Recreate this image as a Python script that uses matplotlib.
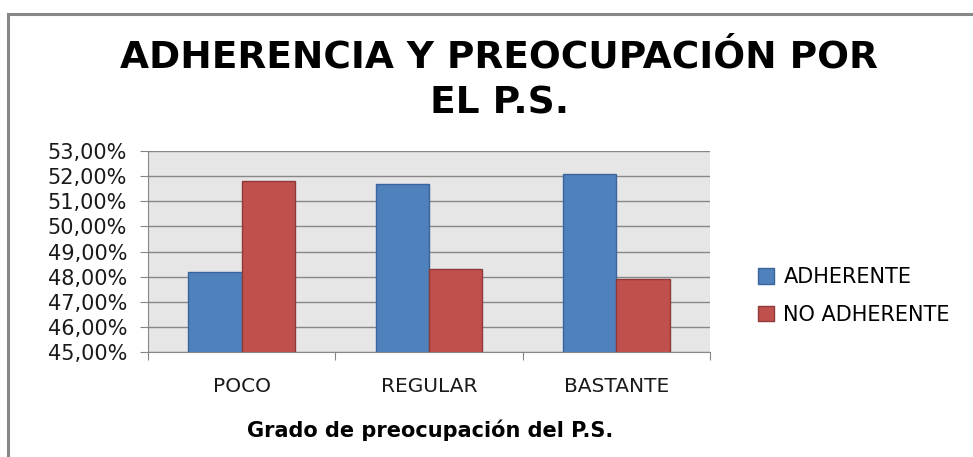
import matplotlib
matplotlib.use('Agg')
import matplotlib.pyplot as plt
import numpy as np
from matplotlib.ticker import FuncFormatter

categorias = ['POCO', 'REGULAR', 'BASTANTE']
adherente = [48.2, 51.7, 52.1]
no_adherente = [51.8, 48.3, 47.9]
series = ['ADHERENTE', 'NO ADHERENTE']

fig = plt.figure(figsize=(9.73, 4.57), dpi=100)

# marco exterior (solo arriba e izquierda visibles)
fig.add_artist(plt.Line2D([8/973, 1], [1-14/457, 1-14/457], color='#878787', lw=2.2))
fig.add_artist(plt.Line2D([8/973, 8/973], [0, 1-14/457], color='#878787', lw=2.2))

ax = fig.add_axes([148/973, 1-352/457, 562/973, 201/457])
ax.set_facecolor('#e6e6e6')

x = np.arange(len(categorias))
w = 0.285
ax.bar(x - w/2, adherente, w, color='#4f81bd', edgecolor='#3b659a', lw=1, label=series[0], zorder=3)
ax.bar(x + w/2, no_adherente, w, color='#c0504d', edgecolor='#8f3a38', lw=1, label=series[1], zorder=3)

ax.set_ylim(45, 53)
ax.set_xlim(-0.5, 2.5)
ax.set_yticks(np.arange(45, 54, 1))
ax.yaxis.set_major_formatter(FuncFormatter(lambda v, p: f'{v:.2f}%'.replace('.', ',')))
ax.grid(axis='y', color='#878787', lw=1, zorder=1)
ax.set_xticks([-0.5, 0.5, 1.5, 2.5])
ax.set_xticklabels([])
ax.set_xticks(x, minor=True)
ax.set_xticklabels(categorias, minor=True)
ax.tick_params(axis='x', which='minor', length=0, pad=18, labelsize=14.5, colors='#1a1a1a')
ax.tick_params(axis='x', which='major', length=6, color='#878787')
ax.tick_params(axis='y', length=6, color='#878787', labelsize=15, pad=9, labelcolor='#1a1a1a')
for s in ['top', 'right']:
    ax.spines[s].set_visible(False)
for s in ['left', 'bottom']:
    ax.spines[s].set_color('#878787')

fig.text(0.513, 1-57/457, 'ADHERENCIA Y PREOCUPACIÓN POR', ha='center', va='center',
         fontsize=27, fontweight='bold')
fig.text(0.513, 1-103/457, 'EL P.S.', ha='center', va='center',
         fontsize=27, fontweight='bold')

fig.text(430/973, 1-430/457, 'Grado de preocupación del P.S.', ha='center', va='center',
         fontsize=15, fontweight='bold')

ax.legend(loc='center left', bbox_to_anchor=(750/973, 1-296/457), bbox_transform=fig.transFigure,
          frameon=False, fontsize=15, handlelength=0.75, handleheight=0.75, labelspacing=0.85,
          handletextpad=0.45, borderaxespad=0)

fig.savefig('out.png', dpi=100)
